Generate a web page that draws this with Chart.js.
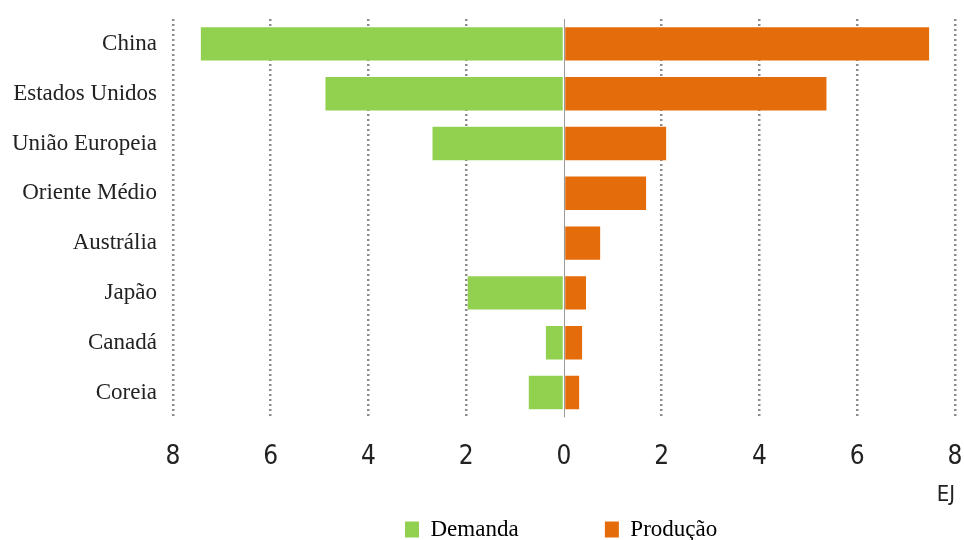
<!DOCTYPE html>
<html>
<head>
<meta charset="utf-8">
<script src="https://cdn.jsdelivr.net/npm/chart.js@4"></script>
<style>
  html, body { margin: 0; padding: 0; background: #fff; }
  #wrap { width: 964px; height: 540px; }
</style>
</head>
<body>
<div id="wrap"><canvas id="chart" width="964" height="540"></canvas></div>
<script>
// EJ per região
const regions = ['China', 'Estados Unidos', 'União Europeia', 'Oriente Médio', 'Austrália', 'Japão', 'Canadá', 'Coreia'];
const demanda = [-7.43, -4.88, -2.69, 0, 0, -1.97, -0.37, -0.72];
const producao = [7.47, 5.37, 2.09, 1.68, 0.74, 0.45, 0.37, 0.31];
const xTicks = [-8, -6, -4, -2, 0, 2, 4, 6, 8];

const zeroLine = {
    id: 'zeroLine',
    afterDatasetsDraw(chart) {
        const { ctx, chartArea, scales } = chart;
        const x = Math.round(scales.x.getPixelForValue(0)) + 0.5;
        ctx.save();
        ctx.strokeStyle = '#9a9a9a';
        ctx.lineWidth = 1;
        ctx.beginPath();
        ctx.moveTo(x, chartArea.top);
        ctx.lineTo(x, chartArea.bottom);
        ctx.stroke();
        ctx.restore();
    }
};

const sansNarrow = "'DejaVu Sans Condensed', sans-serif";

new Chart(document.getElementById('chart'), {
    type: 'bar',
    data: {
        labels: regions,
        datasets: [
            { label: 'Demanda', data: demanda, backgroundColor: '#92d050', barPercentage: 0.67, categoryPercentage: 1 },
            { label: 'Produção', data: producao, backgroundColor: '#e46c0a', barPercentage: 0.67, categoryPercentage: 1 }
        ]
    },
    options: {
        indexAxis: 'y',
        responsive: false,
        animation: false,
        layout: { padding: { top: 19, right: 9, left: -4, bottom: -11 } },
        plugins: {
            tooltip: { enabled: false },
            legend: {
                position: 'bottom',
                fullSize: false,
                labels: {
                    color: '#222',
                    font: { family: 'Liberation Serif', size: 23 },
                    boxWidth: 14, boxHeight: 16, padding: 0,
                    generateLabels(chart) {
                        return chart.data.datasets.map((d, i) => ({
                            text: i === 0 ? d.label + '\u00a0'.repeat(15) : d.label + '\u00a0',
                            fillStyle: d.backgroundColor, strokeStyle: d.backgroundColor,
                            lineWidth: 0, datasetIndex: i
                        }));
                    }
                }
            }
        },
        scales: {
            x: {
                min: -8, max: 8,
                afterBuildTicks(axis) { axis.ticks = xTicks.map(v => ({ value: v })); },
                afterFit(axis) { axis.paddingLeft = 0; axis.paddingRight = 0; },
                ticks: {
                    color: '#222',
                    font: { family: sansNarrow, size: 26 },
                    padding: 24,
                    callback: v => Math.abs(v)
                },
                grid: {
                    color: ctx => ctx.tick && ctx.tick.value === 0 ? 'rgba(0,0,0,0)' : '#8c8c8c',
                    lineWidth: 2.5,
                    drawTicks: false
                },
                border: { display: false, dash: [2, 3] },
                title: {
                    display: true, text: 'EJ', align: 'end',
                    color: '#222',
                    font: { family: sansNarrow, size: 22 },
                    padding: { top: -15, bottom: 10 }
                }
            },
            y: {
                stacked: true,
                afterFit(axis) { axis.paddingTop = 0; axis.paddingBottom = 0; },
                ticks: {
                    color: '#222',
                    font: { family: 'Liberation Serif', size: 23 },
                    padding: 16
                },
                grid: { display: false, drawTicks: false },
                border: { display: false }
            }
        }
    },
    plugins: [zeroLine]
});
</script>
</body>
</html>
